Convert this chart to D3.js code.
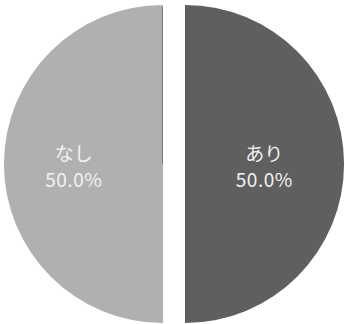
<!DOCTYPE html>
<html>
<head>
<meta charset="utf-8">
<script src="https://cdn.jsdelivr.net/npm/d3@7"></script>
<style>
  body { margin: 0; background: #fff; }
  .label { font-family: "Noto Sans CJK JP", "Noto Sans", sans-serif; fill: #f2f2f2; }
</style>
</head>
<body>
<div class="canvas"></div>
<script>
var categories = ["あり", "なし"];
var values = [50, 50];
var colors = ["#5f5f5f", "#b0b0b0"];

var width = 345, height = 324;
var radius = 159, cx = 174, cy = 164, explode = 11;

var svg = d3.select(".canvas")
	.append("svg")
	.attr("width", width)
	.attr("height", height);

var data = categories.map(function(c, i){ return {name: c, value: values[i]}; });

var pie = d3.pie().sort(null).value(function(d){ return d.value; });
var arc = d3.arc().innerRadius(0).outerRadius(radius);
var labelArc = d3.arc().innerRadius(radius * 0.53).outerRadius(radius * 0.53);
var total = d3.sum(values);

var slices = svg.selectAll("g.slice")
	.data(pie(data))
	.enter()
	.append("g")
	.attr("class", "slice")
	.attr("transform", function(d){
		var a = (d.startAngle + d.endAngle) / 2;
		return "translate(" + (cx + Math.sin(a) * explode) + "," + (cy - Math.cos(a) * explode) + ")";
	});

slices.append("path")
	.attr("d", arc)
	.attr("fill", function(d, i){ return colors[i]; });

// faint edge shading on the straight side of the left slice
slices.filter(function(d, i){ return i == 1; })
	.append("line")
	.attr("x1", -0.5).attr("x2", -0.5)
	.attr("y1", -radius + 2).attr("y2", 0)
	.attr("stroke", "#7a7a7a")
	.attr("stroke-width", 1);

var labels = slices.append("text")
	.attr("class", "label")
	.attr("text-anchor", "middle")
	.attr("transform", function(d){ var c = labelArc.centroid(d); return "translate(" + (c[0] - 5) + "," + c[1] + ")"; });

labels.append("tspan")
	.attr("x", 0)
	.attr("y", -3)
	.style("font-size", "19px")
	.text(function(d){ return d.data.name; });

labels.append("tspan")
	.attr("x", 0)
	.attr("y", 23)
	.style("font-size", "19px")
	.attr("letter-spacing", "0.5px")
	.text(function(d){ return (d.data.value / total * 100).toFixed(1) + "%"; });
</script>
</body>
</html>
